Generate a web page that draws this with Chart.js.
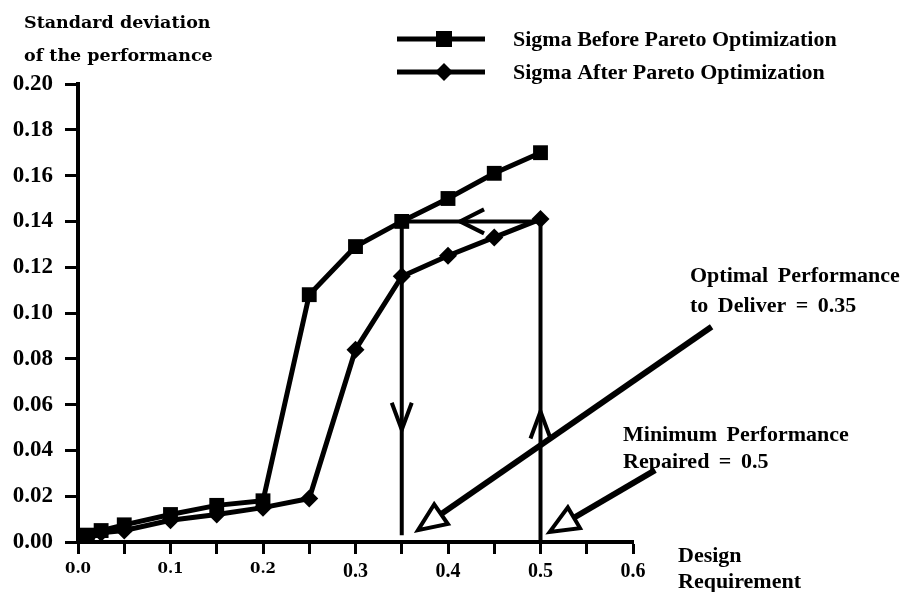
<!DOCTYPE html>
<html><head><meta charset="utf-8">
<script src="https://cdn.jsdelivr.net/npm/chart.js@4.4.1/dist/chart.umd.min.js"></script>
<style>html,body{margin:0;padding:0;background:#fff}#wrap{width:904px;height:592px}</style>
</head><body><div id="wrap"><canvas id="c" width="904" height="592"></canvas></div>
<script>
// ---- data ----
const designRequirement = [0, 0.01, 0.025, 0.05, 0.1, 0.15, 0.2, 0.25, 0.3, 0.35, 0.4, 0.45, 0.5];
const sigmaBefore = [0.001, 0.003, 0.005, 0.0075, 0.012, 0.016, 0.018, 0.108, 0.129, 0.140, 0.150, 0.161, 0.170];
const sigmaAfter  = [0.001, 0.002, 0.004, 0.005, 0.0095, 0.012, 0.015, 0.019, 0.084, 0.116, 0.125, 0.133, 0.141];
const seriesNames = ['Sigma Before Pareto Optimization', 'Sigma After Pareto Optimization'];
const xTickLabels = ['0.0', '0.1', '0.2', '0.3', '0.4', '0.5', '0.6'];
const yTickLabels = ['0.00', '0.02', '0.04', '0.06', '0.08', '0.10', '0.12', '0.14', '0.16', '0.18', '0.20'];
const yAxisTitle = ['Standard deviation', 'of the performance'];
const xAxisTitle = ['Design', 'Requirement'];
const optimalNote = ['Optimal Performance', 'to Deliver = 0.35'];
const minimumNote = ['Minimum Performance', 'Repaired = 0.5'];
const optimalValue = 0.35;
const minimumValue = 0.5;
const sigmaLevel = 0.14;

// annotation geometry in data units
const optimalArrow = {from: [0.685, 0.094], to: [0.3676, 0.0052]};
const minimumArrow = {from: [0.624, 0.0314], to: [0.510, 0.0044]};

const serif = "'Liberation Serif', 'Times New Roman', serif";

function openHead(ctx, tx, ty, fx, fy, len, half) {
  const dx = tx - fx, dy = ty - fy, d = Math.hypot(dx, dy);
  const ux = dx / d, uy = dy / d, nx = -uy, ny = ux;
  const bx = tx - ux * len, by = ty - uy * len;
  ctx.beginPath();
  ctx.moveTo(tx, ty);
  ctx.lineTo(bx + nx * half, by + ny * half);
  ctx.lineTo(bx - nx * half, by - ny * half);
  ctx.closePath();
  ctx.stroke();
  return [bx, by];
}
function chevron(ctx, tx, ty, ux, uy, len, half) {
  const nx = -uy, ny = ux;
  const bx = tx - ux * len, by = ty - uy * len;
  ctx.beginPath();
  ctx.moveTo(bx + nx * half, by + ny * half);
  ctx.lineTo(tx, ty);
  ctx.lineTo(bx - nx * half, by - ny * half);
  ctx.stroke();
}

const overlay = {
  id: 'overlay',
  afterDatasetsDraw(chart) {
    const ctx = chart.ctx, xs = chart.scales.x, ys = chart.scales.y;
    const X = v => xs.getPixelForValue(v), Y = v => ys.getPixelForValue(v);
    ctx.save();
    ctx.strokeStyle = '#000'; ctx.fillStyle = '#000';
    ctx.lineJoin = 'miter'; ctx.lineCap = 'butt';

    ctx.lineWidth = 4;
    ctx.beginPath();
    ctx.moveTo(X(minimumValue), Y(sigmaLevel));
    ctx.lineTo(X(optimalValue), Y(sigmaLevel));
    ctx.stroke();
    chevron(ctx, X(0.413), Y(sigmaLevel), -1, 0, 24, 12);

    ctx.beginPath();
    ctx.moveTo(X(optimalValue), Y(sigmaLevel));
    ctx.lineTo(X(optimalValue), Y(0.003));
    ctx.stroke();
    chevron(ctx, X(optimalValue), Y(0.049), 0, 1, 27, 10);

    ctx.beginPath();
    ctx.moveTo(X(minimumValue), Y(sigmaLevel));
    ctx.lineTo(X(minimumValue), Y(0));
    ctx.stroke();
    chevron(ctx, X(minimumValue), Y(0.057), 0, -1, 27, 10);

    [optimalArrow, minimumArrow].forEach(a => {
      const fx = X(a.from[0]), fy = Y(a.from[1]), tx = X(a.to[0]), ty = Y(a.to[1]);
      ctx.lineWidth = 4;
      const b = openHead(ctx, tx, ty, fx, fy, 28, 12);
      ctx.lineWidth = 6;
      ctx.beginPath();
      ctx.moveTo(fx, fy);
      ctx.lineTo(b[0], b[1]);
      ctx.stroke();
    });

    // legend
    const legY = [39, 72];
    chart.data.datasets.forEach((ds, i) => {
      const y = legY[i];
      ctx.lineWidth = 5;
      ctx.beginPath(); ctx.moveTo(397, y); ctx.lineTo(485, y); ctx.stroke();
      if (i === 0) { ctx.fillRect(436, y - 8, 16, 16); }
      else {
        ctx.beginPath(); ctx.moveTo(444, y - 9); ctx.lineTo(453, y); ctx.lineTo(444, y + 9); ctx.lineTo(435, y); ctx.closePath(); ctx.fill();
      }
      ctx.font = 'bold 22px ' + serif;
      ctx.textBaseline = 'middle'; ctx.textAlign = 'left';
      ctx.fillText(ds.label, 513, y + 1);
    });

    ctx.textBaseline = 'alphabetic'; ctx.textAlign = 'left';
    ctx.font = "bold 17.5px 'DejaVu Serif', serif";
    ctx.fillText(yAxisTitle[0], 24, 28);
    ctx.fillText(yAxisTitle[1], 24, 61);

    ctx.font = 'bold 22px ' + serif;
    try { ctx.wordSpacing = '4px'; } catch (e) {}
    ctx.fillText(optimalNote[0], 690, 282);
    ctx.fillText(optimalNote[1], 690, 312);
    ctx.fillText(minimumNote[0], 623, 441);
    ctx.fillText(minimumNote[1], 623, 468);
    ctx.fillText(xAxisTitle[0], 678, 562);
    ctx.fillText(xAxisTitle[1], 678, 588);
    ctx.restore();
  }
};

const mk = arr => designRequirement.map((x, i) => ({x: x, y: arr[i]}));

new Chart(document.getElementById('c'), {
  type: 'line',
  data: {
    datasets: [
      {label: seriesNames[0], data: mk(sigmaBefore), borderColor: '#000', backgroundColor: '#000',
       borderWidth: 5, pointStyle: 'rect', pointRadius: 10.5, pointBorderWidth: 0, tension: 0},
      {label: seriesNames[1], data: mk(sigmaAfter), borderColor: '#000', backgroundColor: '#000',
       borderWidth: 5, pointStyle: 'rectRot', pointRadius: 9, pointBorderWidth: 0, tension: 0}
    ]
  },
  options: {
    responsive: false,
    devicePixelRatio: 1,
    animation: false,
    layout: {padding: {top: 84, right: 271, bottom: 0, left: 0}},
    plugins: {legend: {display: false}, tooltip: {enabled: false}},
    scales: {
      x: {
        type: 'linear', min: 0, max: 0.6,
        border: {display: true, color: '#000', width: 4},
        grid: {drawOnChartArea: false, drawTicks: true, tickLength: 12, tickWidth: 3, tickColor: '#000'},
        ticks: {
          stepSize: 0.05, autoSkip: false, maxRotation: 0, padding: 6, color: '#000',
          font: c => (c.tick && c.tick.value < 0.25)
            ? {family: "'DejaVu Serif', serif", weight: 'bold', size: 15}
            : {family: serif, weight: 'bold', size: 20},
          callback: v => { const k = Math.round(v * 10); return Math.abs(v * 10 - k) < 1e-6 ? xTickLabels[k] : ''; }
        },
        afterFit: s => { s.height = 50; }
      },
      y: {
        min: 0, max: 0.2,
        border: {display: true, color: '#000', width: 4},
        grid: {drawOnChartArea: false, drawTicks: true, tickLength: 13, tickWidth: 3, tickColor: '#000'},
        ticks: {
          stepSize: 0.02, padding: 12, color: '#000',
          font: {family: serif, weight: 'bold', size: 23},
          callback: v => yTickLabels[Math.round(v / 0.02)]
        },
        afterFit: s => { s.width = 78; }
      }
    }
  },
  plugins: [overlay]
});
</script>
</body></html>
